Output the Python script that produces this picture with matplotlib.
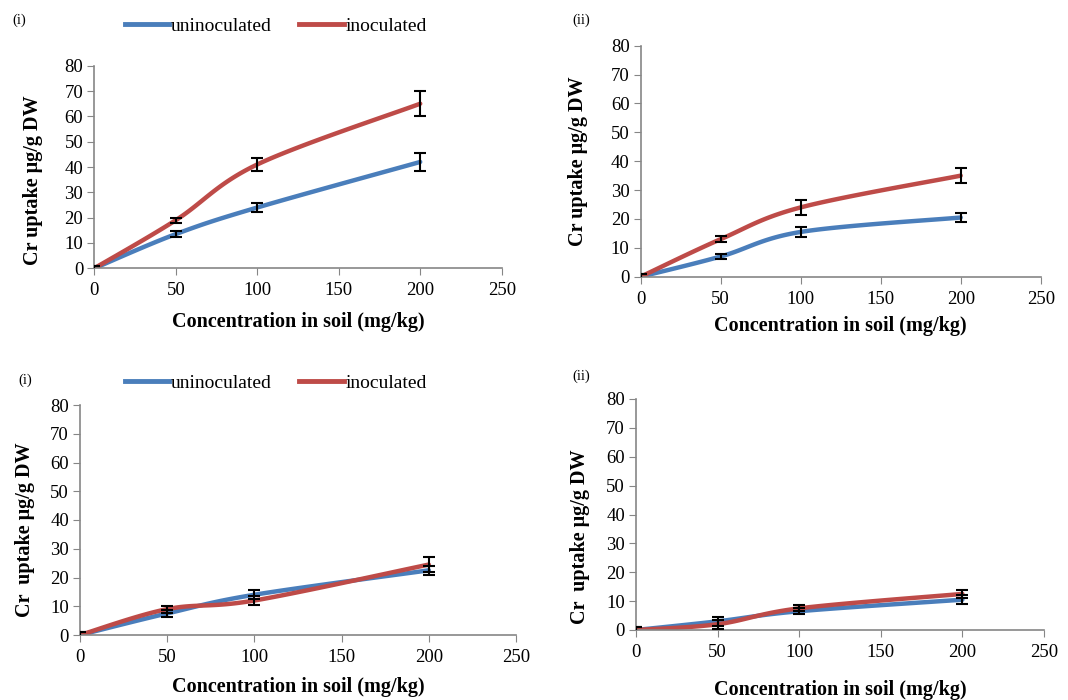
import numpy as np
import matplotlib
matplotlib.use("Agg")
import matplotlib.pyplot as plt
from matplotlib.lines import Line2D

plt.rcParams['font.family'] = ['Liberation Serif', 'DejaVu Serif']

conc = [0, 50, 100, 200]
xticks = [0, 50, 100, 150, 200, 250]
yticks = [0, 10, 20, 30, 40, 50, 60, 70, 80]

p1_unin = [0, 13.5, 24, 42]
p1_unin_err = [1, 1.2, 1.75, 3.5]
p1_inoc = [0, 19, 41, 65]
p1_inoc_err = [1, 1, 2.75, 5]

p2_unin = [0, 7, 15.5, 20.5]
p2_unin_err = [1, 1, 1.75, 1.5]
p2_inoc = [0, 13, 24, 35]
p2_inoc_err = [1, 1, 2.5, 2.5]

p3_unin = [0, 7.5, 14, 22.5]
p3_unin_err = [1.2, 1.2, 1.5, 1.5]
p3_inoc = [0, 9, 12, 24.5]
p3_inoc_err = [1, 1.2, 1.5, 2.5]

p4_unin = [0, 3, 6.5, 10.5]
p4_unin_err = [1, 1.5, 1, 1.5]
p4_inoc = [0, 2, 7.5, 12.5]
p4_inoc_err = [1, 1.5, 1, 1.5]

panel_tags = ["(i)", "(ii)", "(i)", "(ii)"]
series_names = ["uninoculated", "inoculated"]

BLUE = "#4A7EBB"
RED = "#BE4B48"
SPINE = "#868686"

W, H = 1068, 700


def smooth(x, y, n=40):
    P = np.column_stack([x, y]).astype(float)
    m = len(P)
    out = []
    for i in range(m - 1):
        p0 = P[i - 1] if i > 0 else P[i]
        p1 = P[i]
        p2 = P[i + 1]
        p3 = P[i + 2] if i + 2 < m else P[i + 1]
        c1 = p1 + (p2 - p0) / 6.0
        c2 = p2 - (p3 - p1) / 6.0
        t = np.linspace(0, 1, n)[:, None]
        seg = ((1 - t) ** 3) * p1 + 3 * ((1 - t) ** 2) * t * c1 + 3 * (1 - t) * t ** 2 * c2 + t ** 3 * p2
        if i > 0:
            seg = seg[1:]
        out.append(seg)
    out = np.vstack(out)
    return out[:, 0], out[:, 1]


fig = plt.figure(figsize=(W / 100, H / 100), dpi=100)

# axes boxes in pixels: (x0, x1, ytop, ybottom)
boxes = [
    (94.3, 501.7, 65.7, 268.3),
    (640.7, 1040.7, 45.7, 276.7),
    (80.0, 516.0, 405.0, 635.0),
    (636.0, 1044.0, 399.0, 630.0),
]
# label positions in pixels: xlabel center y, ylabel center x, ylabel center y
xlab_y = [322, 326, 687, 690]
ylab_x = [33, 578, 25, 580]
ylab_y = [180, 161, 530, 537]

data = [
    (p1_unin, p1_unin_err, p1_inoc, p1_inoc_err),
    (p2_unin, p2_unin_err, p2_inoc, p2_inoc_err),
    (p3_unin, p3_unin_err, p3_inoc, p3_inoc_err),
    (p4_unin, p4_unin_err, p4_inoc, p4_inoc_err),
]
ylabels = ["Cr uptake μg/g DW", "Cr uptake μg/g DW", "Cr  uptake μg/g DW", "Cr  uptake μg/g DW"]

for k, (box, (u, ue, iv, ie)) in enumerate(zip(boxes, data)):
    x0, x1, yt, yb = box
    rect = [x0 / W, (H - yb) / H, (x1 - x0) / W, (yb - yt) / H]
    ax = fig.add_axes(rect)
    for vals, col in [(u, BLUE), (iv, RED)]:
        sx, sy = smooth(conc, vals)
        ax.plot(sx, sy, color=col, lw=3.2, solid_capstyle='round', zorder=2)
    for vals, errs in [(u, ue), (iv, ie)]:
        ax.errorbar(conc, vals, yerr=errs, fmt='none', ecolor='black',
                    elinewidth=1.5, capsize=4, capthick=1.5, zorder=3)
    ax.set_xlim(0, 250)
    ax.set_ylim(0, 80)
    ax.set_xticks(xticks)
    ax.set_yticks(yticks)
    for s in ['top', 'right']:
        ax.spines[s].set_visible(False)
    for s in ['left', 'bottom']:
        ax.spines[s].set_color(SPINE)
        ax.spines[s].set_linewidth(1.2)
    ax.tick_params(axis='y', direction='out', length=5, color=SPINE, labelsize=13.5, pad=3)
    ax.tick_params(axis='x', direction='out', length=5, color=SPINE, labelsize=13.5, pad=5)
    ax.set_xlabel("Concentration in soil (mg/kg)", fontsize=14.5, fontweight='bold', va='center')
    ax.set_ylabel(ylabels[k], fontsize=14.5, fontweight='bold', va='center')
    wpx = x1 - x0
    hpx = yb - yt
    ax.xaxis.set_label_coords(0.5, -(xlab_y[k] - yb) / hpx)
    ax.yaxis.set_label_coords(-(x0 - ylab_x[k]) / wpx, (yb - ylab_y[k]) / hpx)
    ax.patch.set_alpha(0)

tag_pos = [(12, 20), (572, 20), (18, 380), (572, 376)]
for (tx, ty), tag in zip(tag_pos, panel_tags):
    fig.text(tx / W, 1 - ty / H, tag, fontsize=10.5, ha='left', va='center')

handles = [Line2D([0], [0], color=BLUE, lw=3.5), Line2D([0], [0], color=RED, lw=3.5)]
for ly in [26, 383]:
    fig.legend(handles, series_names, loc='center', bbox_to_anchor=(276 / W, 1 - ly / H),
               ncol=2, frameon=False, fontsize=14, handlelength=2.3,
               handletextpad=0.1, columnspacing=1.4, borderpad=0, borderaxespad=0)

fig.savefig("out.png", dpi=100)
